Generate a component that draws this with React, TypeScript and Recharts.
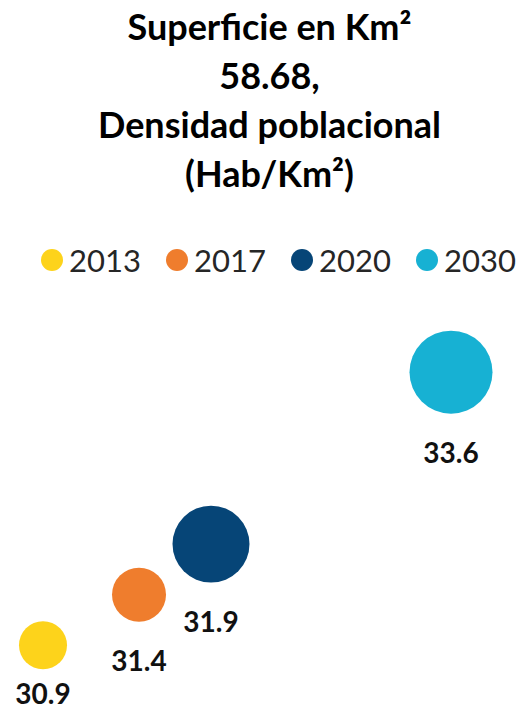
import React from 'react';
import { ScatterChart, Scatter, XAxis, YAxis, ZAxis } from 'recharts';

const years = [2013, 2017, 2020, 2030];
const density = [30.9, 31.4, 31.9, 33.6];
// relative bubble size (Excel bubble area)
const bubbleSize = [576, 729, 1482, 1722];
const colors = ['#FDD31B', '#EF7D2D', '#064577', '#17B1D3'];
const titleLines = ['Superficie en Km²', '58.68,', 'Densidad poblacional', '(Hab/Km²)'];

const W = 519;
const H = 711;

const series = years.map((y, i) => ({
    name: String(y),
    color: colors[i],
    data: [{ year: y, density: density[i], size: bubbleSize[i] }],
}));

const Bubble = (props: any) => {
    const { cx, cy, size, fill, payload } = props;
    const r = Math.sqrt(size / Math.PI);
    const ly = Math.min(cy + r + 38, 693);
    return (
        <g>
            <circle cx={cx} cy={cy} r={r} fill={fill} />
            <text
                x={cx}
                y={ly}
                textAnchor="middle"
                dominantBaseline="central"
                fontFamily="Lato, sans-serif"
                fontWeight={700}
                fontSize={28}
                fill="#111"
            >
                {payload.density.toFixed(1)}
            </text>
        </g>
    );
};

export default function App() {
    return (
        <div style={{ position: 'absolute', left: 0, top: 0, width: W, height: H, background: '#fff' }}>
            <div
                style={{
                    position: 'absolute',
                    left: 10,
                    top: 2,
                    width: W,
                    textAlign: 'center',
                    fontFamily: 'Lato, sans-serif',
                    fontWeight: 700,
                    fontSize: 36,
                    lineHeight: '49px',
                    color: '#000',
                }}
            >
                {titleLines.map((t) => (
                    <div key={t}>{t}</div>
                ))}
            </div>
            <div style={{ position: 'absolute', left: 41, top: 243, display: 'flex' }}>
                {series.map((s) => (
                    <div key={s.name} style={{ display: 'flex', alignItems: 'center', width: 125 }}>
                        <span style={{ width: 22, height: 22, borderRadius: '50%', background: s.color, display: 'inline-block', marginRight: 6 }} />
                        <span style={{ fontFamily: 'Lato, sans-serif', fontSize: 31, lineHeight: '34px', color: '#262626' }}>{s.name}</span>
                    </div>
                ))}
            </div>
            <ScatterChart width={W} height={H} margin={{ top: 0, right: 0, bottom: 0, left: 0 }} style={{ position: 'absolute', left: 0, top: 0 }}>
                <XAxis type="number" dataKey="year" domain={[2011.208, 2032.833]} hide />
                <YAxis type="number" dataKey="density" domain={[30.25, 37.28]} hide />
                <ZAxis type="number" dataKey="size" domain={[0, 1722]} range={[0, Math.PI * 1722]} />
                {series.map((s) => (
                    <Scatter
                        key={s.name}
                        name={s.name}
                        data={s.data}
                        fill={s.color}
                        shape={<Bubble />}
                        isAnimationActive={false}
                    />
                ))}
            </ScatterChart>
        </div>
    );
}
